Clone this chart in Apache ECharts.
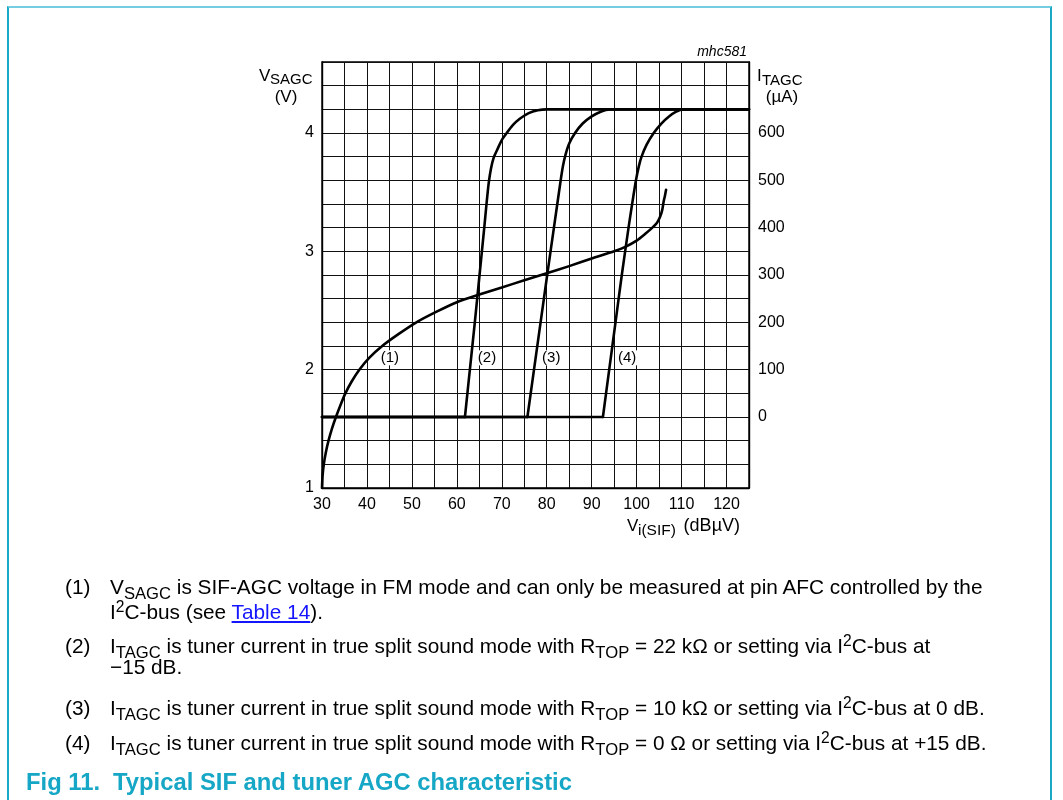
<!DOCTYPE html>
<html>
<head>
<meta charset="utf-8">
<script src="https://cdn.jsdelivr.net/npm/echarts@6/dist/echarts.min.js"></script>
<style>
  html, body { margin: 0; padding: 0; background: #fff; }
  #wrap { position: relative; width: 1063px; height: 800px; overflow: hidden; font-family: "Liberation Sans", Arial, sans-serif; }
  #chart { position: absolute; left: 0; top: 0; width: 1063px; height: 800px; }
  #frame { position: absolute; left: 7px; top: 6px; width: 1041px; height: 820px; border-top: 2px solid #74cde0; border-left: 2px solid #1aa9c6; border-right: 2px solid #1aa9c6; pointer-events: none; }
  .ln { position: absolute; font-size: 20.8px; line-height: 20.8px; color: #000; white-space: nowrap; pointer-events: none; }
  .ln .sb { position: relative; top: 0.28em; font-size: 0.8em; line-height: 0; }
  .ln .sp { position: relative; top: -0.42em; font-size: 0.75em; line-height: 0; }
  .ln a { color: #1515ff; text-decoration: underline; }
  .cap { position: absolute; font-size: 23.8px; line-height: 23.8px; font-weight: bold; color: #17a7c6; white-space: nowrap; }
</style>
</head>
<body>
<div id="wrap">
  <div id="chart"></div>
  <div id="frame"></div>

  <div class="ln" style="left:65px; top:577px;">(1)</div>
  <div class="ln" style="left:110px; top:577px;">V<span class="sb">SAGC</span> is SIF-AGC voltage in FM mode and can only be measured at pin AFC controlled by the</div>
  <div class="ln" style="left:110px; top:602px;">I<span class="sp">2</span>C-bus (see <a>Table 14</a>).</div>

  <div class="ln" style="left:65px; top:636px;">(2)</div>
  <div class="ln" style="left:110px; top:636px;">I<span class="sb">TAGC</span> is tuner current in true split sound mode with R<span class="sb">TOP</span> = 22 kΩ or setting via I<span class="sp">2</span>C-bus at</div>
  <div class="ln" style="left:110px; top:657px;">−15 dB.</div>

  <div class="ln" style="left:65px; top:698px;">(3)</div>
  <div class="ln" style="left:110px; top:698px;">I<span class="sb">TAGC</span> is tuner current in true split sound mode with R<span class="sb">TOP</span> = 10 kΩ or setting via I<span class="sp">2</span>C-bus at 0 dB.</div>

  <div class="ln" style="left:65px; top:733px;">(4)</div>
  <div class="ln" style="left:110px; top:733px;">I<span class="sb">TAGC</span> is tuner current in true split sound mode with R<span class="sb">TOP</span> = 0 Ω or setting via I<span class="sp">2</span>C-bus at +15 dB.</div>

  <div class="cap" style="left:26px; top:770px;">Fig 11.<span style="display:inline-block;width:13px;"></span>Typical SIF and tuner AGC characteristic</div>
</div>
<script>
// ---- data ----
// curve (1): V_SAGC (V) vs V_i(SIF) (dBuV), left axis
const curve1 = [[30,1.0],[30.12,1.1],[30.4,1.2],[30.85,1.3],[31.45,1.4],[32.2,1.5],[33.1,1.6],[34.1,1.7],[35.2,1.8],[36.6,1.9],[38.3,2.0],[40.5,2.1],[43.4,2.2],[47,2.3],[51,2.4],[55.5,2.49],[60,2.57],[65,2.635],[70,2.695],[75,2.755],[80,2.815],[85,2.875],[90,2.94],[95,3.0],[97.6,3.04],[100,3.09],[102,3.15],[103.5,3.2],[104.5,3.24],[105.2,3.29],[105.7,3.35],[106.0,3.42],[106.3,3.47],[106.55,3.52]];
// curves (2),(3),(4): I_TAGC (uA), right axis
const curve2 = [[30,0],[61.8,0],[62.9,100],[64.0,200],[65.05,300],[66.1,400],[66.6,450],[67.1,495],[67.6,525],[68.2,548],[69.0,565],[70,585],[71.1,600],[72.5,617],[74,630],[76,642],[78,648],[80,650],[125,650]];
const curve3 = [[30,0],[75.7,0],[80.1,300],[81.6,400],[83.1,500],[83.6,530],[84.2,555],[85,578],[86.3,600],[88,620],[90,635],[92,645],[94,650],[125,650]];
const curve4 = [[30,0],[92.5,0],[93.9,100],[95.3,200],[96.7,300],[98.2,400],[99.0,450],[99.85,500],[100.5,530],[101.1,550],[102.2,575],[103.8,600],[105.5,620],[107.2,635],[108.8,645],[110.2,650],[125,650]];
// curve tags, placed in data coordinates (x dBuV, y V)
const tagNames = ['(1)','(2)','(3)','(4)'];
const tagPos = [[45.1,2.10],[66.7,2.10],[81.0,2.10],[97.9,2.10]];
// axis ranges / tick labels
const xRange = [30, 125], xStep = 5, xLabels = [30,40,50,60,70,80,90,100,110,120];
const vRange = [1, 4.6], vStep = 0.2, vLabels = [1,2,3,4];
const iRange = [-150, 750], iStep = 50, iLabels = [0,100,200,300,400,500,600];

const FONT = '"Liberation Sans", Arial, sans-serif';
const near = (arr, v) => arr.some(a => Math.abs(a - v) < 1e-6);

const chart = echarts.init(document.getElementById('chart'), null, { renderer: 'canvas' });
const lineSeries = (data, yi, smooth) => ({
  type: 'line', data, yAxisIndex: yi, showSymbol: false, symbol: 'none',
  smooth: smooth,
  lineStyle: { color: '#000', width: 2.6, cap: 'round', join: 'round' }, silent: true, z: 5
});

const option = {
  animation: false,
  backgroundColor: 'transparent',
  grid: { left: 322, top: 62, width: 427, height: 426, show: true, borderColor: '#000', borderWidth: 1.4 },
  xAxis: {
    type: 'value', min: xRange[0], max: xRange[1], interval: xStep,
    axisLine: { show: true, onZero: false, lineStyle: { color: '#000', width: 1.4 } },
    axisTick: { show: false },
    axisLabel: { fontSize: 16, color: '#000', fontFamily: FONT, margin: 9, showMaxLabel: true,
      formatter: v => near(xLabels, v) ? String(Math.round(v)) : '' },
    splitLine: { show: true, lineStyle: { color: '#111', width: 1 } }
  },
  yAxis: [
    { type: 'value', position: 'left', min: vRange[0], max: vRange[1], interval: vStep,
      axisLine: { show: true, lineStyle: { color: '#000', width: 1.4 } },
      axisTick: { show: false },
      axisLabel: { fontSize: 16, color: '#000', fontFamily: FONT, margin: 8,
        formatter: v => near(vLabels, v) ? String(Math.round(v)) : '' },
      splitLine: { show: true, lineStyle: { color: '#111', width: 1 } } },
    { type: 'value', position: 'right', min: iRange[0], max: iRange[1], interval: iStep,
      axisLine: { show: true, lineStyle: { color: '#000', width: 1.4 } },
      axisTick: { show: false },
      axisLabel: { fontSize: 16, color: '#000', fontFamily: FONT, margin: 9, align: 'left',
        formatter: v => near(iLabels, v) ? String(Math.round(v)) : '' },
      splitLine: { show: false } }
  ],
  series: [
    lineSeries(curve1, 0, 0.25),
    // straight zero-current baselines
    lineSeries(curve2.slice(0, 2), 1, false),
    lineSeries(curve3.slice(0, 2), 1, false),
    lineSeries(curve4.slice(0, 2), 1, false),
    // rising parts
    lineSeries(curve2.slice(1), 1, 0.25),
    lineSeries(curve3.slice(1), 1, 0.25),
    lineSeries(curve4.slice(1), 1, 0.25),
    { type: 'scatter', yAxisIndex: 0, symbolSize: 0, silent: true, z: 6,
      itemStyle: { opacity: 1 },
      data: tagPos.map((p, i) => ({ value: p, name: tagNames[i] })),
      label: { show: true, position: 'inside', formatter: p => p.name, fontSize: 15, color: '#000', opacity: 1, fontFamily: FONT,
        backgroundColor: '#fff', padding: [0, 1] } }
  ],
  graphic: [
    // left axis title V_SAGC (V)
    { type: 'text', style: { text: 'V', x: 259, y: 76, fontSize: 17, fontFamily: FONT, fill: '#000', verticalAlign: 'middle' } },
    { type: 'text', style: { text: 'SAGC', x: 270, y: 80, fontSize: 15, fontFamily: FONT, fill: '#000', verticalAlign: 'middle' } },
    { type: 'text', style: { text: '(V)', x: 286, y: 97, fontSize: 17, fontFamily: FONT, fill: '#000', align: 'center', verticalAlign: 'middle' } },
    // right axis title I_TAGC (uA)
    { type: 'text', style: { text: 'I', x: 757, y: 76, fontSize: 17, fontFamily: FONT, fill: '#000', verticalAlign: 'middle' } },
    { type: 'text', style: { text: 'TAGC', x: 762, y: 81, fontSize: 15, fontFamily: FONT, fill: '#000', verticalAlign: 'middle' } },
    { type: 'text', style: { text: '(µA)', x: 782, y: 97, fontSize: 17, fontFamily: FONT, fill: '#000', align: 'center', verticalAlign: 'middle' } },
    // figure id
    { type: 'text', style: { text: 'mhc581', x: 747, y: 52, fontSize: 14, fontStyle: 'italic', fontFamily: FONT, fill: '#000', align: 'right', verticalAlign: 'middle' } },
    // x axis title V_i(SIF) (dBuV)
    { type: 'text', style: { text: 'V', x: 627, y: 526, fontSize: 17, fontFamily: FONT, fill: '#000', verticalAlign: 'middle' } },
    { type: 'text', style: { text: 'i(SIF)', x: 638, y: 531, fontSize: 15.5, fontFamily: FONT, fill: '#000', verticalAlign: 'middle' } },
    { type: 'text', style: { text: '(dBµV)', x: 740, y: 526, fontSize: 18, fontFamily: FONT, fill: '#000', align: 'right', verticalAlign: 'middle' } }
  ]
};
chart.setOption(option);
</script>
</body>
</html>
